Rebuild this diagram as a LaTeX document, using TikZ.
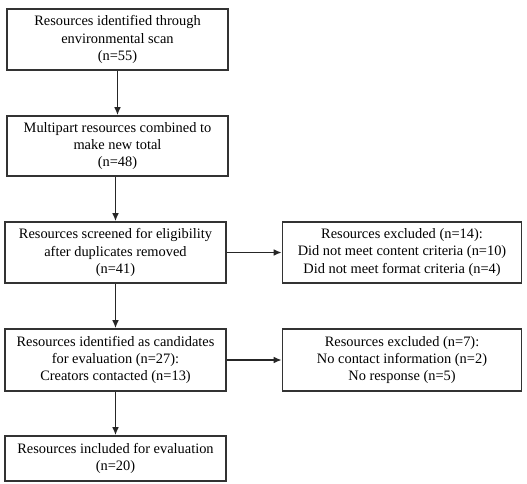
\documentclass[tikz,border=0pt]{standalone}
\usepackage{fontspec}
\setmainfont{Liberation Serif}
\usetikzlibrary{arrows.meta}
\begin{document}
\begin{tikzpicture}[x=0.75pt, y=-0.75pt, every node/.style={font=\fontsize{10.8}{12.8}\selectfont},
  stagebox/.style={draw=black!80, line width=1.2pt, align=center, minimum width=221*0.75pt, inner sep=2pt},
  outbox/.style={stagebox, minimum width=239*0.75pt},
  flow/.style={line width=1.1pt, black!85, -{Latex[length=6pt,width=5pt]}}]
  \useasboundingbox (0,0) rectangle (527,483);
  % Main column
  \node[stagebox, minimum height=61*0.75pt] (scan) at (117.5,39.5) {Resources identified through\\environmental scan\\(n=55)};
  \node[stagebox, minimum height=60*0.75pt] (multi) at (117.5,146) {Multipart resources combined to\\make new total\\(n=48)};
  \node[stagebox, minimum height=61*0.75pt] (screen) at (115.5,252.5) {Resources screened for eligibility\\after duplicates removed\\(n=41)};
  \node[stagebox, minimum height=62*0.75pt] (cand) at (115.5,360) {Resources identified as candidates\\for evaluation (n=27):\\Creators contacted (n=13)};
  \node[stagebox, minimum height=45*0.75pt] (incl) at (115.5,458.5) {Resources included for evaluation\\(n=20)};
  % Exclusions
  \node[outbox, minimum height=61*0.75pt] (excl1) at (402,252.5) {Resources excluded (n=14):\\Did not meet content criteria (n=10)\\Did not meet format criteria (n=4)};
  \node[outbox, minimum height=62*0.75pt] (excl2) at (402,360) {Resources excluded (n=7):\\No contact information (n=2)\\No response (n=5)};
  \draw[flow] (scan) -- (multi);
  \draw[flow] (multi.south -| screen) -- (screen);
  \draw[flow] (screen) -- (cand);
  \draw[flow] (cand) -- (incl);
  \draw[flow] (screen) -- (excl1);
  \draw[flow] (cand) -- (excl2);
\end{tikzpicture}
\end{document}
